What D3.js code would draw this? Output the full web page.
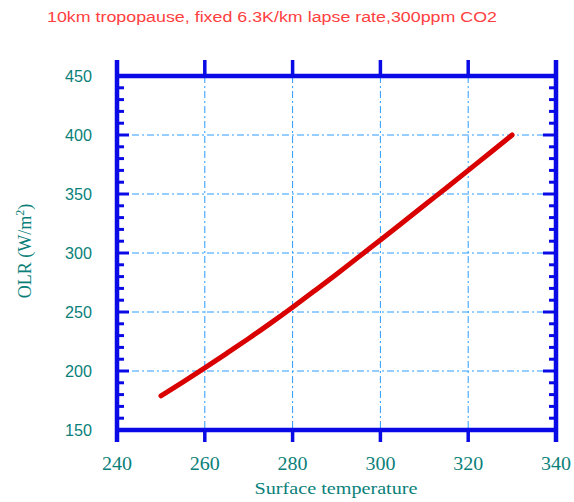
<!DOCTYPE html>
<html><head><meta charset="utf-8">
<script src="https://cdn.jsdelivr.net/npm/d3@7"></script>
<style>html,body{margin:0;padding:0;background:#fff;}</style>
</head><body>
<svg id="c" width="574" height="502"></svg>
<script>
const titleText = "10km tropopause, fixed 6.3K/km lapse rate,300ppm CO2";
const xLabel = "Surface temperature";
const temps = [250,255,260,265,270,275,280,285,290,295,300,305,310,315,320,325,330];
const olr   = [179,190.5,202.5,215,227.5,240.5,254,268,282,296.5,311,325.5,340.5,355,370,385,400];
const xTicks = [240,260,280,300,320,340];
const yTicks = [150,200,250,300,350,400,450];
const yMinor = d3.range(150,451,10);

const svg = d3.select("#c");
const x = d3.scaleLinear().domain([240,340]).range([117,556]);
const y = d3.scaleLinear().domain([150,450]).range([430,76]);
const blue = "#0a0ae6", teal = "#0a7f7a";

// grid
const g = svg.append("g");
g.selectAll(".gx").data(xTicks.slice(1,-1)).enter().append("line")
  .attr("x1",d=>x(d)).attr("x2",d=>x(d)).attr("y1",y(450)).attr("y2",y(150))
  .attr("stroke","#2a9cff").attr("stroke-width",1).attr("stroke-dasharray","7,3,2,3");
g.selectAll(".gy").data(yTicks.slice(1,-1)).enter().append("line")
  .attr("y1",d=>y(d)).attr("y2",d=>y(d)).attr("x1",x(240)).attr("x2",x(340))
  .attr("stroke","#2a9cff").attr("stroke-width",1).attr("stroke-dasharray","7,3,2,3");

// data line
svg.append("path").datum(temps.map((t,i)=>[t,olr[i]]))
  .attr("d", d3.line().x(d=>x(d[0])).y(d=>y(d[1])).curve(d3.curveBasis))
  .attr("fill","none").attr("stroke","#d90000").attr("stroke-width",5).attr("stroke-linecap","round");

// frame
const fr = svg.append("g").attr("stroke",blue);
fr.append("line").attr("x1",x(240)).attr("x2",x(240)).attr("y1",60).attr("y2",442).attr("stroke-width",4.5);
fr.append("line").attr("x1",x(340)).attr("x2",x(340)).attr("y1",60).attr("y2",442).attr("stroke-width",4.5);
fr.append("line").attr("x1",x(240)).attr("x2",x(340)).attr("y1",y(150)).attr("y2",y(150)).attr("stroke-width",4.5);
fr.append("line").attr("x1",x(240)).attr("x2",x(340)).attr("y1",y(450)).attr("y2",y(450)).attr("stroke-width",4.5);
// x major ticks
fr.selectAll(".xb").data(xTicks).enter().append("line")
  .attr("x1",d=>x(d)).attr("x2",d=>x(d)).attr("y1",y(150)).attr("y2",442).attr("stroke-width",3.5);
fr.selectAll(".xt").data(xTicks).enter().append("line")
  .attr("x1",d=>x(d)).attr("x2",d=>x(d)).attr("y1",y(450)).attr("y2",60).attr("stroke-width",3.5);
// y ticks
fr.selectAll(".yl").data(yMinor).enter().append("line")
  .attr("y1",d=>y(d)).attr("y2",d=>y(d)).attr("x1",x(240))
  .attr("x2",d=>x(240)+(d%50===0?12:7)).attr("stroke-width",3);
fr.selectAll(".yr").data(yMinor).enter().append("line")
  .attr("y1",d=>y(d)).attr("y2",d=>y(d)).attr("x1",x(340))
  .attr("x2",d=>x(340)-(d%50===0?13:7)).attr("stroke-width",3);

// tick labels
svg.selectAll(".xl").data(xTicks).enter().append("text")
  .attr("x",d=>x(d)).attr("y",470).attr("text-anchor","middle")
  .attr("font-family","Liberation Serif").attr("font-size",18).attr("fill",teal)
  .attr("textLength",30).attr("lengthAdjust","spacingAndGlyphs").text(d=>d);
svg.selectAll(".yl2").data(yTicks).enter().append("text")
  .attr("x",92).attr("y",d=>y(d)+6).attr("text-anchor","end")
  .attr("font-family","Liberation Sans").attr("font-size",17).attr("fill",teal)
  .attr("textLength",27).attr("lengthAdjust","spacingAndGlyphs").text(d=>d);

// axis titles
svg.append("text").attr("x",336).attr("y",494).attr("text-anchor","middle")
  .attr("font-family","Liberation Serif").attr("font-size",17).attr("fill",teal)
  .attr("textLength",163).attr("lengthAdjust","spacingAndGlyphs").text(xLabel);
const yt = svg.append("text").attr("transform","translate(31,251) rotate(-90)")
  .attr("text-anchor","middle").attr("font-family","Liberation Serif").attr("font-size",18).attr("fill",teal);
yt.append("tspan").text("OLR (W/m");
yt.append("tspan").attr("dy",-7).attr("font-size",12).text("2");
yt.append("tspan").attr("dy",7).text(")");

// title
svg.append("text").attr("x",272).attr("y",22).attr("text-anchor","middle")
  .attr("font-family","Liberation Sans").attr("font-size",14).attr("fill","#ff4040")
  .attr("textLength",450).attr("lengthAdjust","spacingAndGlyphs").text(titleText);
</script>
</body></html>
